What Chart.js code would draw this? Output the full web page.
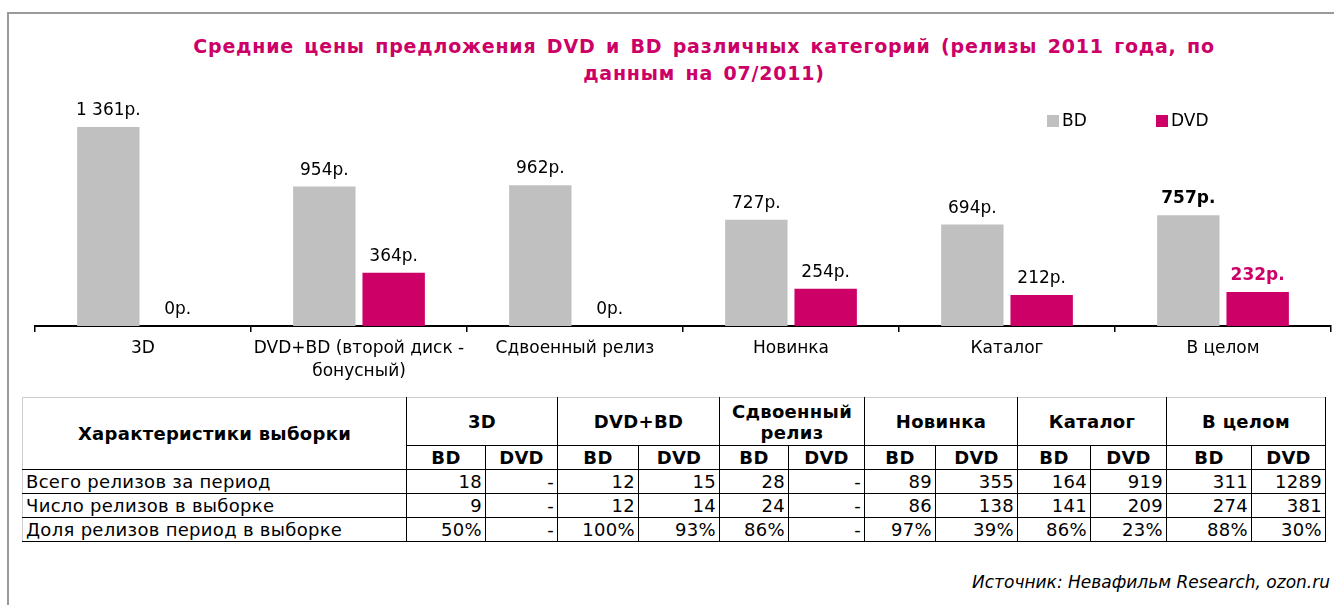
<!DOCTYPE html>
<html>
<head>
<meta charset="utf-8">
<script src="https://cdn.jsdelivr.net/npm/chart.js@4.4.1/dist/chart.umd.min.js"></script>
<style>
  html, body { margin: 0; padding: 0; background: #fff; width: 1334px; height: 605px; overflow: hidden; font-family: "DejaVu Sans", Verdana, sans-serif; }
  #frame { position: absolute; left: 7px; top: 12px; width: 1400px; height: 700px; border-top: 2px solid #9a9a9a; border-left: 2px solid #9a9a9a; box-sizing: border-box; }
  #title { position: absolute; left: 104px; width: 1200px; top: 33px; text-align: center; color: #CC0066; font-weight: bold; font-size: 19px; line-height: 27px; word-spacing: 3px; letter-spacing: 0.8px; white-space: nowrap; }
  #chartWrap { position: absolute; left: 0; top: 0; width: 1334px; height: 395px; }
  table { position: absolute; left: 22px; top: 397px; border-collapse: collapse; table-layout: fixed; font-size: 18px; letter-spacing: 0.3px; color: #000; }
  td, th { border: 1px solid #000; padding: 0 3px; white-space: nowrap; overflow: hidden; }
  th { font-weight: bold; text-align: center; }
  td.num { text-align: right; }
  tr.h1 th { height: 47px; border-top-color: #cfcfcf; line-height: 21px; white-space: normal; }
  tr.h2 th { height: 23px; line-height: 20px; }
  tr.d td { height: 23px; line-height: 20px; }
  th.first { border-left-color: #cfcfcf; }
  td.lbl { border-left-color: #cfcfcf; text-align: left; }
  #source { position: absolute; right: 4px; top: 572px; font-style: italic; font-size: 17px; color: #000; }
</style>
</head>
<body>
<div id="frame"></div>
<div id="title">Средние цены предложения DVD и BD различных категорий (релизы 2011 года, по<br>данным на 07/2011)</div>
<div id="chartWrap"><canvas id="c" width="1334" height="395"></canvas></div>
<table id="tbl"></table>
<div id="source">Источник: Невафильм Research, ozon.ru</div>
<script>
// ---- Chart data ----
const categories = [["3D"], ["DVD+BD (второй диск -", "бонусный)"], ["Сдвоенный релиз"], ["Новинка"], ["Каталог"], ["В целом"]];
const seriesNames = ["BD", "DVD"];
const bdPrices = [1361, 954, 962, 727, 694, 757];
const dvdPrices = [0, 364, 0, 254, 212, 232];
const currencySuffix = "р.";

// ---- Table data ----
const tableHeader = "Характеристики выборки";
const tableGroups = ["3D", "DVD+BD", "Сдвоенный релиз", "Новинка", "Каталог", "В целом"];
const rowLabels = ["Всего релизов за период", "Число релизов в выборке", "Доля релизов период в выборке"];
const rowTotal = ["18", "-", "12", "15", "28", "-", "89", "355", "164", "919", "311", "1289"];
const rowSample = ["9", "-", "12", "14", "24", "-", "86", "138", "141", "209", "274", "381"];
const rowShare = ["50%", "-", "100%", "93%", "86%", "-", "97%", "39%", "86%", "23%", "88%", "30%"];

const colors = { BD: "#C0C0C0", DVD: "#CC0066" };
const FONT = '"DejaVu Sans", Verdana, sans-serif';

function fmt(v) {
  return String(v).replace(/\B(?=(\d{3})+(?!\d))/g, " ") + currencySuffix;
}

const valueLabels = {
  id: "valueLabels",
  afterDatasetsDraw(chart) {
    const ctx = chart.ctx;
    const lastIdx = chart.data.labels.length - 1;
    ctx.save();
    ctx.textAlign = "center";
    ctx.textBaseline = "alphabetic";
    chart.data.datasets.forEach((ds, di) => {
      const meta = chart.getDatasetMeta(di);
      meta.data.forEach((bar, i) => {
        const emph = i === lastIdx;
        ctx.font = (emph ? "bold " : "") + "17px " + FONT;
        ctx.fillStyle = emph && di === 1 ? colors.DVD : "#000";
        ctx.fillText(fmt(ds.data[i]), bar.x, bar.y - 12);
      });
    });
    ctx.restore();
  }
};

const legendPlugin = {
  id: "legendPlugin",
  afterDraw(chart) {
    const ctx = chart.ctx;
    const xs = [1047, 1156];
    ctx.save();
    ctx.font = "17px " + FONT;
    ctx.textBaseline = "middle";
    ctx.textAlign = "left";
    chart.data.datasets.forEach((ds, i) => {
      ctx.fillStyle = ds.backgroundColor;
      ctx.fillRect(xs[i], 115, 12, 12);
      ctx.fillStyle = "#000";
      ctx.fillText(ds.label, xs[i] + 15, 122);
    });
    ctx.restore();
  }
};

new Chart(document.getElementById("c"), {
  type: "bar",
  data: {
    labels: categories,
    datasets: [
      { label: seriesNames[0], data: bdPrices, backgroundColor: colors.BD },
      { label: seriesNames[1], data: dvdPrices, backgroundColor: colors.DVD }
    ]
  },
  options: {
    responsive: false,
    animation: false,
    devicePixelRatio: 1,
    layout: { padding: { left: 35, right: 3, top: 100, bottom: 9 } },
    datasets: { bar: { categoryPercentage: 0.642, barPercentage: 0.9 } },
    plugins: { legend: { display: false }, title: { display: false }, tooltip: { enabled: false } },
    scales: {
      x: {
        afterFit(scale) { scale.height = 60; },
        grid: { display: true, drawOnChartArea: false, drawTicks: true, tickLength: 6, color: "#000", lineWidth: 1.5, offset: true },
        border: { display: true, color: "#000", width: 2 },
        ticks: { color: "#000", font: { family: FONT, size: 17, lineHeight: 1.3 }, padding: 6, maxRotation: 0, autoSkip: false }
      },
      y: { display: false, min: 0, max: 1546, beginAtZero: true }
    }
  },
  plugins: [valueLabels, legendPlugin]
});

// ---- Build table ----
const colWidths = [384, 79, 72, 81, 81, 69, 76, 71, 82, 73, 76, 85, 74];
const tbl = document.getElementById("tbl");
let html = "<colgroup>" + colWidths.map(w => `<col style="width:${w}px">`).join("") + "</colgroup>";
html += `<tr class="h1"><th class="first" rowspan="2">${tableHeader}</th>` +
  tableGroups.map(g => `<th colspan="2">${g}</th>`).join("") + "</tr>";
html += `<tr class="h2">` + tableGroups.map(() => `<th>${seriesNames[0]}</th><th>${seriesNames[1]}</th>`).join("") + "</tr>";
[rowTotal, rowSample, rowShare].forEach((row, r) => {
  html += `<tr class="d"><td class="lbl">${rowLabels[r]}</td>` + row.map(v => `<td class="num">${v}</td>`).join("") + "</tr>";
});
tbl.innerHTML = html;
</script>
</body>
</html>
